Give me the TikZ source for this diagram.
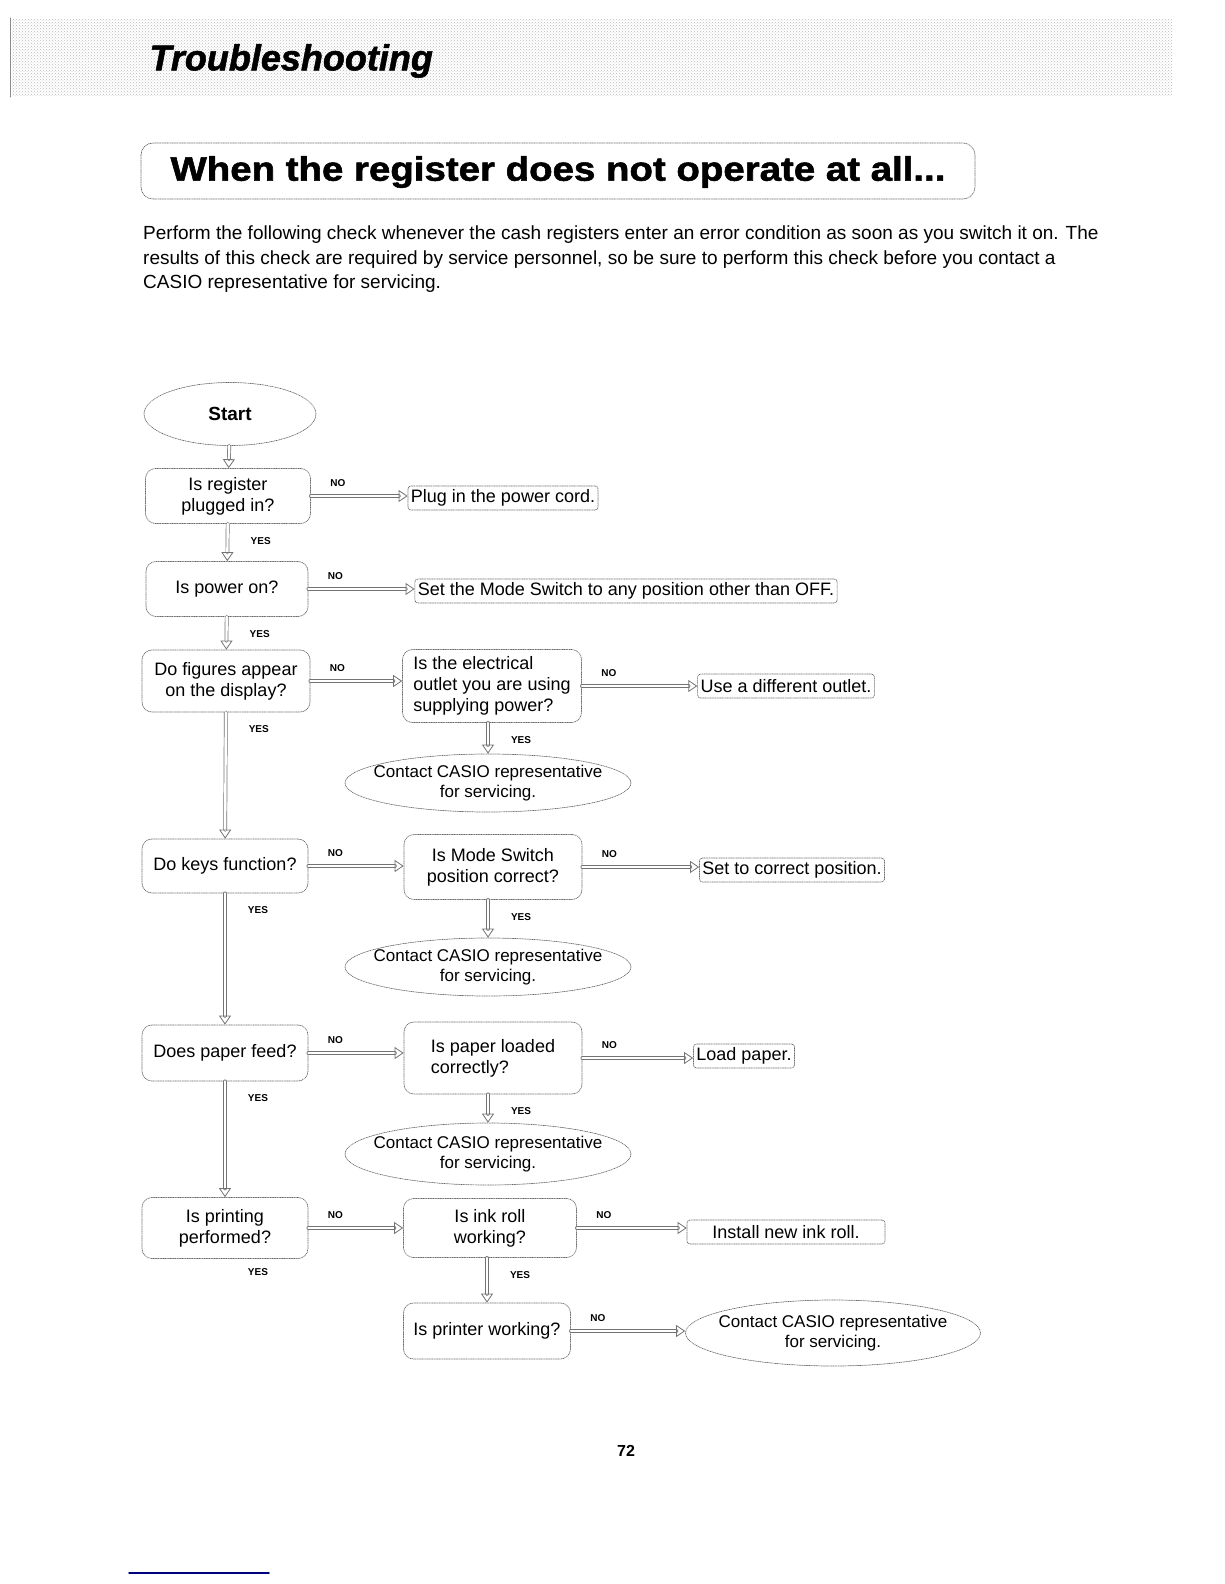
\documentclass[tikz,border=0pt]{standalone}
\usepackage{fontspec}
\setmainfont{Liberation Sans}
\usetikzlibrary{arrows.meta,shapes.geometric,patterns}

\begin{document}
\begin{tikzpicture}[x=1pt,y=-1pt,line join=round,line cap=round,
  txt/.style={font=\fontsize{18}{21}\selectfont},
  qbox/.style 2 args={txt,draw=black!60,densely dotted,line width=0.7pt,rounded corners=10pt,
    align=center,minimum width=#1,minimum height=#2,inner sep=2pt},
  fixbox/.style={txt,draw=black!60,densely dotted,line width=0.7pt,rounded corners=3pt,
    minimum height=24pt,inner sep=3pt},
  casio/.style 2 args={font=\fontsize{17}{20}\selectfont,ellipse,draw=black!60,densely dotted,line width=0.7pt,align=center,
    minimum width=#1,minimum height=#2,inner xsep=-22pt,inner ysep=0pt},
  flow/.style={draw=black!55,line width=0.7pt,double=white,double distance=2.4pt,
    -{Triangle[open,length=9pt,width=12pt,line width=0.8pt]}},
  nolab/.style={font=\fontsize{10}{12}\selectfont\bfseries,at start,xshift=27pt,yshift=13pt},
  yeslab/.style={font=\fontsize{10}{12}\selectfont\bfseries,at start,xshift=33pt,yshift=-17pt}]

\useasboundingbox (0,0) rectangle (1224,1584);

% header band
\fill[pattern=crosshatch dots,pattern color=gray!55] (12,20) rectangle (1172,96);
\draw[gray,densely dotted,line width=1pt] (10,18) -- (10,98);
\node[font=\fontsize{36}{40}\selectfont\bfseries\itshape\addfontfeature{FakeBold=1.5},anchor=west] (head) at (146,61) {Troubleshooting};

% title
\draw[black!60,densely dotted,line width=0.7pt,rounded corners=12pt] (141,143) rectangle (975,199);
\node[font=\fontsize{34}{38}\selectfont\bfseries\addfontfeature{FakeBold=1.5}] (title) at (558,172)
  {\scalebox{1.13}[1]{When the register does not operate at all...}};

% intro
\node[anchor=north west,align=left,inner sep=0pt,
  font=\fontsize{19}{24.5}\selectfont] (intro) at (143,226)
  {Perform the following check whenever the cash registers enter an error condition as soon as you switch it on. The\\
   results of this check are required by service personnel, so be sure to perform this check before you contact a\\
   CASIO representative for servicing.};

% nodes
\node[casio={172pt}{63pt},inner xsep=10pt,font=\fontsize{19}{22}\selectfont\bfseries] (start) at (230,414) {Start};

\node[qbox={165pt}{55pt}] (q1) at (228,496) {Is register\\plugged in?};
\node[fixbox] (o1) at (503,498) {Plug in the power cord.};

\node[qbox={162pt}{55pt}] (q2) at (227,589) {Is power on?};
\node[fixbox] (o2) at (626,591) {Set the Mode Switch to any position other than OFF.};

\node[qbox={168pt}{62pt}] (q3) at (226,681) {Do figures appear\\on the display?};
\node[qbox={179pt}{73pt},align=left] (r3) at (492,686) {Is the electrical\\outlet you are using\\supplying power?};
\node[fixbox] (o3) at (786,686) {Use a different outlet.};
\node[casio={286pt}{58pt}] (c3) at (488,783) {Contact CASIO representative\\for servicing.};

\node[qbox={166pt}{54pt}] (q4) at (225,866) {Do keys function?};
\node[qbox={178pt}{65pt}] (r4) at (493,867) {Is Mode Switch\\position correct?};
\node[fixbox] (o4) at (792,870) {Set to correct position.};
\node[casio={286pt}{58pt}] (c4) at (488,967) {Contact CASIO representative\\for servicing.};

\node[qbox={166pt}{56pt}] (q5) at (225,1053) {Does paper feed?};
\node[qbox={178pt}{72pt},align=left] (r5) at (493,1058) {Is paper loaded\\correctly?};
\node[fixbox] (o5) at (744,1056) {Load paper.};
\node[casio={286pt}{62pt}] (c5) at (488,1154) {Contact CASIO representative\\for servicing.};

\node[qbox={166pt}{61pt}] (q6) at (225,1228) {Is printing\\performed?};
\node[qbox={173pt}{59pt}] (r6) at (490,1228) {Is ink roll\\working?};
\node[fixbox,minimum width=198pt] (o6) at (786,1232) {Install new ink roll.};

\node[qbox={167pt}{56pt}] (q7) at (487,1331) {Is printer working?};
\node[casio={295pt}{66pt}] (c7) at (833,1333) {Contact CASIO representative\\for servicing.};

% main line
\draw[flow] (start) -- (q1);
\draw[flow] (q1) -- node[yeslab]{YES} (q2);
\draw[flow] (q2) -- node[yeslab]{YES} (q3);
\draw[flow] (q3) -- node[yeslab]{YES} (q4);
\draw[flow] (q4) -- node[yeslab]{YES} (q5);
\draw[flow] (q5) -- node[yeslab]{YES} (q6);
\node[font=\fontsize{10}{12}\selectfont\bfseries] (y6) at (258,1272) {YES};

% no branches
\draw[flow] (q1.east) -- node[nolab]{NO} (q1.east -| o1.west);
\draw[flow] (q2.east) -- node[nolab]{NO} (q2.east -| o2.west);
\draw[flow] (q3.east) -- node[nolab]{NO} (q3.east -| r3.west);
\draw[flow] (r3.east) -- node[nolab]{NO} (r3.east -| o3.west);
\draw[flow] (q4.east) -- node[nolab]{NO} (q4.east -| r4.west);
\draw[flow] (r4.east) -- node[nolab]{NO} (r4.east -| o4.west);
\draw[flow] (q5.east) -- node[nolab]{NO} (q5.east -| r5.west);
\draw[flow] (r5.east) -- node[nolab]{NO} (r5.east -| o5.west);
\draw[flow] (q6.east) -- node[nolab]{NO} (q6.east -| r6.west);
\draw[flow] (r6.east) -- node[nolab]{NO} (r6.east -| o6.west);
\draw[flow] (q7.east) -- node[nolab]{NO} (q7.east -| c7.west);

% yes branches
\draw[flow] (c3.north |- r3.south) -- node[yeslab]{YES} (c3.north);
\draw[flow] (c4.north |- r4.south) -- node[yeslab]{YES} (c4.north);
\draw[flow] (c5.north |- r5.south) -- node[yeslab]{YES} (c5.north);
\draw[flow] (q7.north |- r6.south) -- node[yeslab]{YES} (q7.north);

% page number
\node[font=\fontsize{16}{18}\selectfont\bfseries] (page) at (626,1451) {72};
\draw[blue!50!black,line width=1.5pt] (129,1573) -- (269,1573);

\end{tikzpicture}
\end{document}
